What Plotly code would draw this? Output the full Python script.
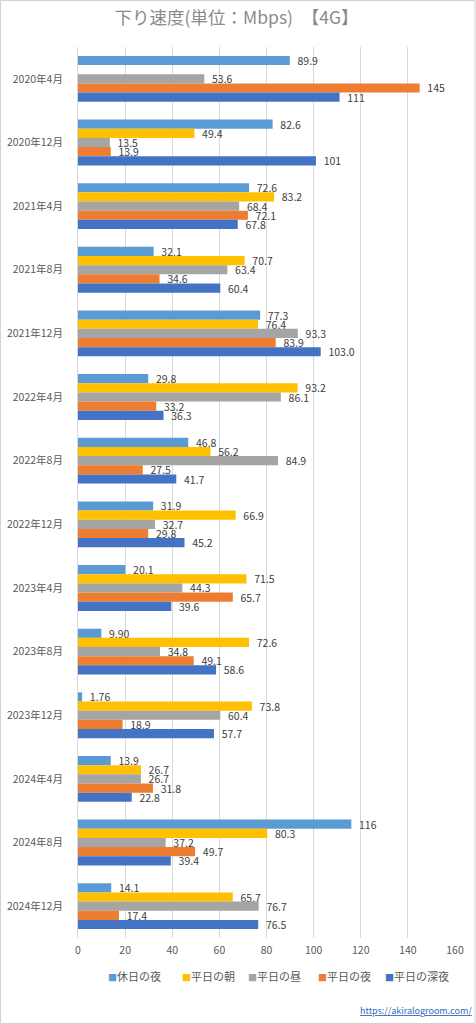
import plotly.graph_objects as go

categories = ["2020年4月", "2020年12月", "2021年4月", "2021年8月", "2021年12月",
              "2022年4月", "2022年8月", "2022年12月", "2023年4月", "2023年8月",
              "2023年12月", "2024年4月", "2024年8月", "2024年12月"]

# values as shown on the chart labels (None = no data)
holiday_night = ["89.9", "82.6", "72.6", "32.1", "77.3", "29.8", "46.8", "31.9",
                 "20.1", "9.90", "1.76", "13.9", "116", "14.1"]
weekday_morning = [None, "49.4", "83.2", "70.7", "76.4", "93.2", "56.2", "66.9",
                   "71.5", "72.6", "73.8", "26.7", "80.3", "65.7"]
weekday_noon = ["53.6", "13.5", "68.4", "63.4", "93.3", "86.1", "84.9", "32.7",
                "44.3", "34.8", "60.4", "26.7", "37.2", "76.7"]
weekday_night = ["145", "13.9", "72.1", "34.6", "83.9", "33.2", "27.5", "29.8",
                 "65.7", "49.1", "18.9", "31.8", "49.7", "17.4"]
weekday_late = ["111", "101", "67.8", "60.4", "103.0", "36.3", "41.7", "45.2",
                "39.6", "58.6", "57.7", "22.8", "39.4", "76.5"]

series_names = ["休日の夜", "平日の朝", "平日の昼", "平日の夜", "平日の深夜"]
series_data = [holiday_night, weekday_morning, weekday_noon, weekday_night, weekday_late]
colors = ["#5B9BD5", "#FFC000", "#A5A5A5", "#ED7D31", "#4472C4"]

FONT = "Noto Sans CJK JP, Noto Sans, sans-serif"

fig = go.Figure()
for name, data, color in zip(series_names, series_data, colors):
    xs = [float(v) if v is not None else None for v in data]
    txt = [("\u00a0\u00a0" + v) if v is not None else "" for v in data]
    fig.add_trace(go.Bar(
        y=categories, x=xs, name=name, orientation="h",
        marker=dict(color=color, line=dict(width=0)),
        text=txt, textposition="outside", constraintext="none",
        textfont=dict(size=10.5, color="#404040", family=FONT),
        cliponaxis=False, showlegend=False,
    ))

W, H = 476, 1024
L, R, T, B = 78, 20.6, 47, 86
pw, ph = W - L - R, H - T - B

def px_x(p):
    return (p - L) / pw

def px_y(p):
    return (H - B - p) / ph

fig.update_layout(
    width=W, height=H,
    margin=dict(l=L, r=R, t=T, b=B, autoexpand=False),
    paper_bgcolor="white", plot_bgcolor="white",
    barmode="group", bargap=0.28, bargroupgap=0,
    font=dict(family=FONT, color="#595959"),
    title=dict(text="下り速度(単位：Mbps)　【4G】", x=0.497, xanchor="center",
               y=1 - 18 / H, yanchor="middle", yref="container",
               font=dict(size=17.5, color="#8A8A8A", family=FONT)),
    xaxis=dict(range=[0, 160], dtick=20, showgrid=True, gridcolor="#D9D9D9",
               gridwidth=1, zeroline=False, showline=False, ticks="",
               automargin=False,
               tickfont=dict(size=10.5, color="#595959"), ticklabelstandoff=4),
    yaxis=dict(autorange="reversed", showgrid=False, zeroline=False,
               showline=True, linecolor="#D9D9D9", ticks="", automargin=False,
               tickfont=dict(size=10.5, color="#595959"), ticklabelstandoff=12),
    showlegend=False,
)

# legend drawn as text entries (colored square + series name)
legend_x = [106, 180, 246, 316, 383]
for lx, name, color in zip(legend_x, series_names, colors):
    fig.add_annotation(
        text=f"<span style='color:{color};font-size:9px'>■</span>{name}",
        xref="paper", yref="paper", x=px_x(lx), y=px_y(976),
        xanchor="left", yanchor="middle", showarrow=False,
        font=dict(size=11, color="#595959", family=FONT))

fig.add_annotation(text="<u>https://akiralogroom.com/</u>", xref="paper", yref="paper",
                   x=px_x(474), y=px_y(1010), xanchor="right", yanchor="middle",
                   showarrow=False, font=dict(size=9, color="#2F6DB5", family=FONT))

fig.add_shape(type="rect", xref="paper", yref="paper",
              x0=px_x(0.5), x1=px_x(475.5), y0=px_y(1023.5), y1=px_y(0.5),
              line=dict(color="#D0D0D0", width=1), layer="below")

fig.write_html("out.html", config={"displayModeBar": False},
               post_script="document.body.style.margin='0';document.body.style.overflow='hidden';")
